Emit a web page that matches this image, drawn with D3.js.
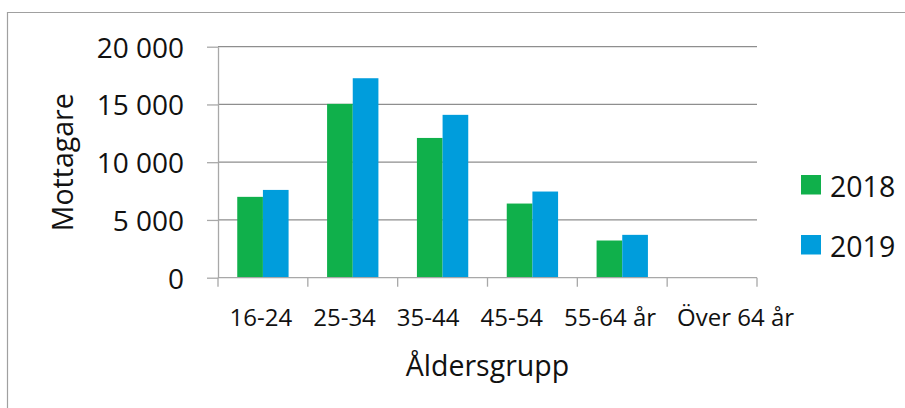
<!DOCTYPE html>
<html>
<head>
<meta charset="utf-8">
<script src="https://cdn.jsdelivr.net/npm/d3@7"></script>
<style>
  html, body { margin: 0; padding: 0; background: #fff; }
  svg { display: block; }
  text { font-family: "Open Sans", "Noto Sans", sans-serif; fill: #111; }
</style>
</head>
<body>
<svg id="chart" width="905" height="408"></svg>
<script>
// ---- data ----
const categories = ["16-24", "25-34", "35-44", "45-54", "55-64 år", "Över 64 år"];
const seriesNames = ["2018", "2019"];
const values2018 = [7000, 15050, 12100, 6420, 3220, 25];
const values2019 = [7600, 17270, 14100, 7460, 3710, 35];
const yTicks = [0, 5000, 10000, 15000, 20000];
const seriesColors = ["#10b04b", "#009ddc"];
const yTitle = "Mottagare";
const xTitle = "Åldersgrupp";

(function () {
const svg = d3.select("#chart");

// outer frame
svg.append("path")
  .attr("d", "M7.5,420 V12.5 H910")
  .attr("fill", "none").attr("stroke", "#a0a0a0").attr("stroke-width", 1.2);

const pLeft = 218, pRight = 757, pTop = 46.7, pBottom = 277.7;

const x = d3.scaleBand().domain(categories).range([pLeft, pRight]).padding(0);
const x1 = d3.scaleBand().domain(seriesNames).range([0, x.bandwidth()])
  .paddingInner(0).paddingOuter(0.75);
const y = d3.scaleLinear().domain([0, 20000]).range([pBottom, pTop]);

const locale = d3.formatLocale({ decimal: ",", thousands: " ", grouping: [3], currency: ["", " kr"] });
const fmt = locale.format(",d");

// gridlines
svg.append("g").selectAll("line").data(yTicks.filter(d => d > 0)).join("line")
  .attr("x1", pLeft).attr("x2", pRight)
  .attr("y1", d => y(d)).attr("y2", d => y(d))
  .attr("stroke", "#8e8e8e").attr("stroke-width", 1.3);

// bars
const series = [values2018, values2019];
const gBars = svg.append("g");
seriesNames.forEach((s, si) => {
  gBars.append("g").selectAll("rect").data(categories).join("rect")
    .attr("x", d => x(d) + x1(s))
    .attr("width", x1.bandwidth())
    .attr("y", (d, i) => y(series[si][i]))
    .attr("height", (d, i) => y(0) - y(series[si][i]))
    .attr("fill", seriesColors[si]);
});

// y axis
const yAxis = d3.axisLeft(y).tickValues(yTicks).tickFormat(fmt).tickSizeInner(11).tickSizeOuter(0).tickPadding(23);
const gy = svg.append("g").attr("transform", `translate(${pLeft},0)`).call(yAxis);
gy.select(".domain").attr("stroke", "#a8a8a8").attr("stroke-width", 1.3);
gy.selectAll(".tick line").attr("stroke", "#a8a8a8").attr("stroke-width", 1.3);
gy.selectAll(".tick text").attr("font-size", 28).attr("dy", "0.37em")
  .attr("font-family", "'Open Sans', sans-serif").attr("fill", "#111");

// x axis (ticks at band boundaries)
const gx = svg.append("g");
gx.append("line").attr("x1", pLeft).attr("x2", pRight).attr("y1", pBottom).attr("y2", pBottom)
  .attr("stroke", "#a8a8a8").attr("stroke-width", 1.3);
const boundaries = categories.map(c => x(c)).concat([x(categories[categories.length - 1]) + x.bandwidth()]);
gx.selectAll("line.tk").data(boundaries).join("line").attr("class", "tk")
  .attr("x1", d => d).attr("x2", d => d).attr("y1", pBottom).attr("y2", pBottom + 9)
  .attr("stroke", "#a8a8a8").attr("stroke-width", 1.3);

// x tick labels laid out in a row
const labels = gx.selectAll("text.lbl").data(categories).join("text").attr("class", "lbl")
  .attr("font-size", 24).attr("y", 326).text(d => d);
let cursor = null;
labels.each(function (d, i) {
  const w = this.getComputedTextLength();
  if (i === 0) cursor = x(d) + x.bandwidth() / 2 - w / 2 - 2;
  d3.select(this).attr("x", cursor);
  cursor += w + 21;
});

// axis titles
svg.append("text").attr("x", (pLeft + pRight) / 2).attr("y", 376)
  .attr("text-anchor", "middle").attr("font-size", 28.5).text(xTitle);
svg.append("text").attr("transform", `translate(73,${(pTop + pBottom) / 2}) rotate(-90)`)
  .attr("text-anchor", "middle").attr("font-size", 28.5).text(yTitle);

// legend
const legendY = [175, 235];
const lg = svg.append("g");
seriesNames.forEach((s, i) => {
  lg.append("rect").attr("x", 801).attr("y", legendY[i]).attr("width", 20).attr("height", 19.5)
    .attr("fill", seriesColors[i]);
  lg.append("text").attr("x", 830).attr("y", legendY[i] + 21.5).attr("font-size", 28.5).text(s);
});
})();
</script>
</body>
</html>
